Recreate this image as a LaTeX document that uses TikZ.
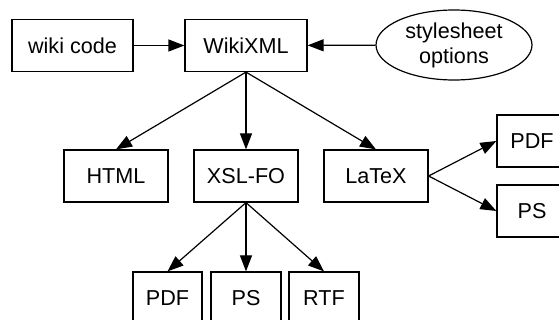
\documentclass[tikz,border=0pt]{standalone}
\usepackage{fontspec}
\setmainfont{Liberation Sans}
\usepackage{tikz}
\usetikzlibrary{arrows.meta,shapes.geometric}

\begin{document}
\begin{tikzpicture}[x=1pt,y=-1pt,
  font=\fontsize{21.6}{25}\selectfont,
  box/.style={draw, line width=1.2pt, minimum height=52pt, inner sep=0pt},
  conn/.style={-{Triangle[length=16pt,width=12pt]}, line width=1.2pt}]
\useasboundingbox (0,0) rectangle (559,320);
\clip (0,0) rectangle (559,320);
% top row
\node[box, minimum width=121pt] (wiki) at (72.5,45.5) {wiki code};
\node[box, minimum width=122pt] (wikixml) at (246,45.5) {WikiXML};
\node[draw, ellipse, line width=1.2pt, minimum width=156pt, minimum height=70pt, inner sep=0pt, align=center] (style) at (454,45) {stylesheet\\options};
% middle row
\node[box, minimum width=104pt] (html) at (116,176) {HTML};
\node[box, minimum width=104pt] (xslfo) at (246,176) {XSL-FO};
\node[box, minimum width=104pt] (latex) at (376,176) {LaTeX};
% right column
\node[box, minimum width=70pt] (pdfa) at (532,141) {PDF};
\node[box, minimum width=70pt] (psa) at (532,211) {PS};
% bottom row
\node[box, minimum width=69pt] (pdfb) at (167.5,298) {PDF};
\node[box, minimum width=70pt] (psb) at (246,298) {PS};
\node[box, minimum width=70pt] (rtf) at (324,298) {RTF};

\draw[conn] (wiki) -- (wikixml);
\draw[conn] (style) -- (wikixml);
\draw[conn] (wikixml.south) -- (html.north);
\draw[conn] (wikixml.south) -- (xslfo.north);
\draw[conn] (wikixml.south) -- (latex.north);
\draw[conn] (latex.east) -- (pdfa.west);
\draw[conn] (latex.east) -- (psa.west);
\draw[conn] (xslfo.south) -- (pdfb.north);
\draw[conn] (xslfo.south) -- (psb.north);
\draw[conn] (xslfo.south) -- (rtf.north);
\end{tikzpicture}
\end{document}
